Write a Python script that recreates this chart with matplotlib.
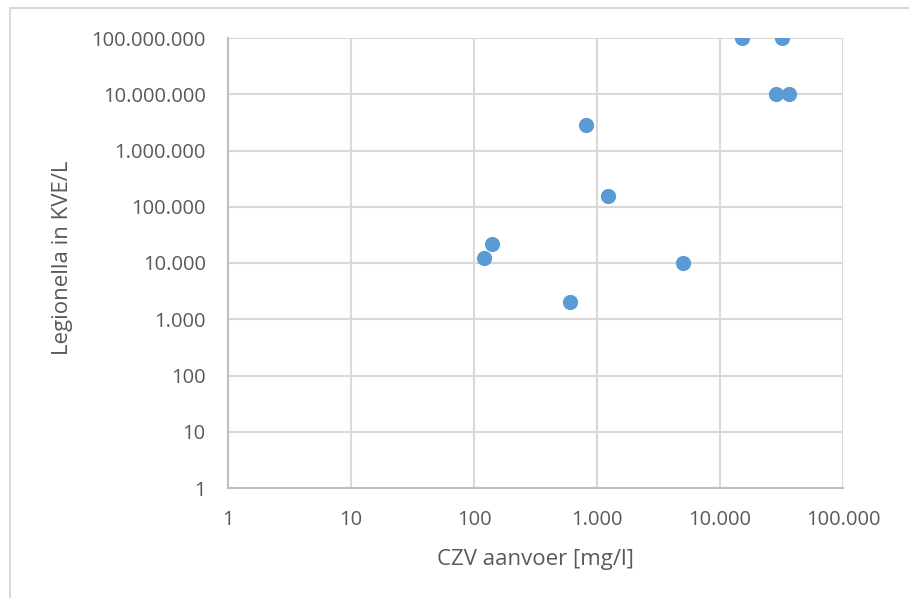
import numpy as np
import matplotlib.pyplot as plt
from matplotlib.ticker import FuncFormatter, LogLocator, NullLocator
from matplotlib.patches import Rectangle

# CZV aanvoer [mg/l] vs Legionella [KVE/L]
czv = [15000, 32000, 28500, 36400, 810, 1230, 140, 120, 5000, 600]
legionella = [1e8, 1e8, 1e7, 1e7, 2.8e6, 155000, 21500, 12300, 10000, 2000]

x_label = "CZV aanvoer [mg/l]"
y_label = "Legionella in KVE/L"

plt.rcParams['font.family'] = ['Open Sans', 'DejaVu Sans']

fig = plt.figure(figsize=(9.09, 5.98), dpi=100)
ax = fig.add_axes([228 / 909, 1 - 488 / 598, 615 / 909, 450 / 598])

ax.scatter(czv, legionella, s=120, color="#5b9bd5", zorder=3, linewidths=0)

ax.set_xscale("log")
ax.set_yscale("log")
ax.set_xlim(1, 1e5)
ax.set_ylim(1, 1e8)


def dutch(v, pos):
    return f"{int(round(v)):,}".replace(",", ".")


ax.xaxis.set_major_locator(LogLocator(base=10, numticks=20))
ax.yaxis.set_major_locator(LogLocator(base=10, numticks=20))
ax.xaxis.set_minor_locator(NullLocator())
ax.yaxis.set_minor_locator(NullLocator())
ax.xaxis.set_major_formatter(FuncFormatter(dutch))
ax.yaxis.set_major_formatter(FuncFormatter(dutch))

ax.grid(True, color="#d9d9d9", linewidth=1.5, zorder=0)
ax.set_axisbelow(True)
for side in ["top", "right"]:
    ax.spines[side].set_visible(False)
for side in ["left", "bottom"]:
    ax.spines[side].set_color("#bfbfbf")
    ax.spines[side].set_linewidth(1.5)

ax.tick_params(axis="both", length=0, labelsize=14.5, colors="#595959")
ax.tick_params(axis="x", pad=16)
ax.tick_params(axis="y", pad=16)

ax.set_xlabel(x_label, fontsize=16, color="#595959", va="center")
ax.set_ylabel(y_label, fontsize=16, color="#595959", va="center")
ax.xaxis.set_label_coords(0.5 + (535 - 535) / 615, (488 - 560) / 450)
ax.yaxis.set_label_coords((63 - 228) / 615, 0.5 + (488 - 258 - 225) / 450)

# light chart frame
fig.patches.append(Rectangle((10 / 909, -0.1), 1.2, 1 - 8 / 598 + 0.1,
                             transform=fig.transFigure, fill=False,
                             edgecolor="#d9d9d9", linewidth=1.5))

fig.savefig("out.png", dpi=100)
